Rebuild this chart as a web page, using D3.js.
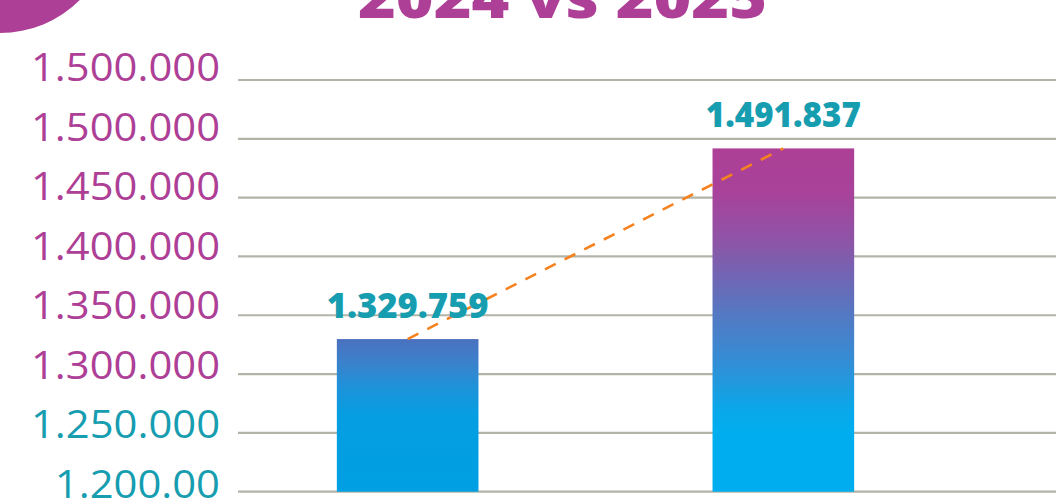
<!DOCTYPE html>
<html>
<head>
<meta charset="utf-8">
<script src="https://cdn.jsdelivr.net/npm/d3@7"></script>
<style>
  html, body { margin: 0; padding: 0; background: #ffffff; }
  svg { display: block; }
</style>
</head>
<body>
<svg id="chart" width="1056" height="499"></svg>
<script>
// ---- data ----
const title = "2024 vs 2025";
const categories = ["2024", "2025"];
const values = [1329759, 1491837];
const valueLabels = ["1.329.759", "1.491.837"];
const tickValues = [1200000, 1250000, 1300000, 1350000, 1400000, 1450000, 1500000, 1550000];
const tickLabels = ["1.200.00", "1.250.000", "1.300.000", "1.350.000", "1.400.000", "1.450.000", "1.500.000", "1.500.000"];

// ---- styles ----
const PURPLE = "#ae3f96";
const TEAL = "#179db0";
const GRID = "#b3b4a8";
const ORANGE = "#f5821f";
const FONT = "'Open Sans', 'DejaVu Sans', sans-serif";

const svg = d3.select("#chart");
const W = 1056, H = 499;

const y = d3.scaleLinear().domain([1200000, 1550000]).range([491.7, 80]);
const x = d3.scaleBand().domain(categories).range([149, 1042]).paddingInner(0.623).paddingOuter(0.5);

// gradients
const defs = svg.append("defs");
const gradStops = [
  [[0, "#4b71c0"], [0.16, "#3a82cc"], [0.32, "#1d93da"], [0.5, "#069ee2"], [1, "#009fe3"]],
  [[0, "#ae3f96"], [0.13, "#a8429a"], [0.28, "#8c56a8"], [0.38, "#6f67b5"], [0.48, "#5578c2"],
   [0.58, "#3e87d0"], [0.68, "#2398dd"], [0.76, "#0aa8ea"], [0.83, "#00aeef"], [1, "#00aeef"]]
];
gradStops.forEach((stops, i) => {
  const g = defs.append("linearGradient").attr("id", "g" + i)
    .attr("x1", 0).attr("y1", 0).attr("x2", 0).attr("y2", 1);
  stops.forEach(s => g.append("stop").attr("offset", s[0]).attr("stop-color", s[1]));
});

// decorative circle
svg.append("circle").attr("cx", 0).attr("cy", -80).attr("r", 113).attr("fill", PURPLE);

// title
const t = svg.append("text").attr("x", 562.5).attr("y", 18)
  .attr("text-anchor", "middle")
  .attr("font-family", FONT).attr("font-weight", 800).attr("font-size", 56)
  .attr("fill", PURPLE).text(title);
t.attr("textLength", 409).attr("lengthAdjust", "spacingAndGlyphs");

// gridlines
svg.append("g").selectAll("line").data(tickValues).join("line")
  .attr("x1", 238).attr("x2", W)
  .attr("y1", d => y(d)).attr("y2", d => y(d))
  .attr("stroke", GRID).attr("stroke-width", 2.2);

// tick labels
const tl = svg.append("g").selectAll("text").data(tickValues).join("text")
  .attr("x", 220)
  .attr("y", (d, i) => y(d) + 1 + i * 0.0 + (7 - i) * 0.75)
  .attr("text-anchor", "end")
  .attr("font-family", FONT).attr("font-weight", 400).attr("font-size", 38)
  .attr("fill", d => d < 1300000 ? TEAL : PURPLE)
  .text((d, i) => tickLabels[i]);
// widen to match the reference's wide geometric font
const refNode = tl.nodes()[7];
const sx = 189 / refNode.getComputedTextLength();
tl.each(function() {
  const w = this.getComputedTextLength();
  d3.select(this).attr("textLength", w * sx).attr("lengthAdjust", "spacingAndGlyphs");
});

// bars
svg.append("g").selectAll("rect").data(values).join("rect")
  .attr("x", (d, i) => x(categories[i]))
  .attr("width", x.bandwidth())
  .attr("y", d => y(d))
  .attr("height", d => y(1200000) - y(d))
  .attr("fill", (d, i) => `url(#g${i})`);

// dashed trend line
const line = d3.line().x((d, i) => x(categories[i]) + x.bandwidth() / 2).y(d => y(d));
svg.append("path").datum(values).attr("d", line)
  .attr("fill", "none").attr("stroke", ORANGE).attr("stroke-width", 2.6)
  .attr("stroke-dasharray", "12,10");

// value labels
const labelWidths = [162, 155];
svg.append("g").selectAll("text").data(values).join("text")
  .attr("x", (d, i) => x(categories[i]) + x.bandwidth() / 2)
  .attr("y", d => y(d) - 21)
  .attr("text-anchor", "middle")
  .attr("font-family", FONT).attr("font-weight", 800).attr("font-size", 35)
  .attr("fill", TEAL)
  .attr("textLength", (d, i) => labelWidths[i]).attr("lengthAdjust", "spacingAndGlyphs")
  .text((d, i) => valueLabels[i]);
</script>
</body>
</html>
